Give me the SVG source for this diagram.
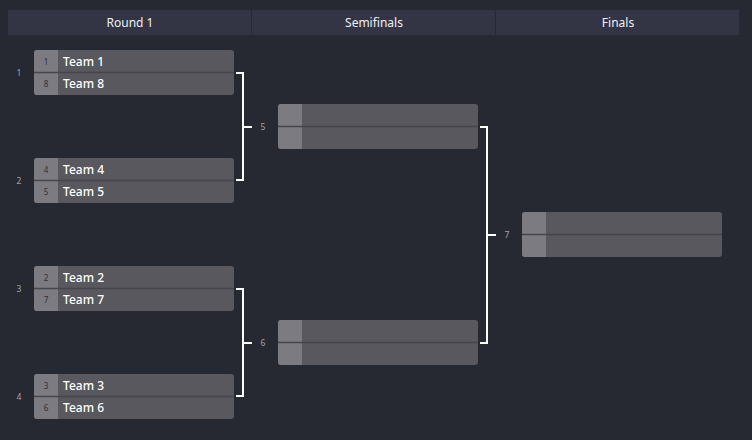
<svg xmlns="http://www.w3.org/2000/svg" width="752" height="440" viewBox="0 0 752 440">
<defs>
<style>
.hdr{fill:#333545}
.hdrt{font-family:"Noto Sans","Liberation Sans",sans-serif;font-size:12px;fill:#eef0f6;text-anchor:middle}
.box{fill:#58585e}
.seedbg{fill:#7b7b81}
.div{stroke:#45464d;stroke-width:1.5}
.seed{font-family:"Noto Sans","Liberation Sans",sans-serif;font-size:8px;fill:#2e303a;text-anchor:middle}
.team{font-family:"Noto Sans","Liberation Sans",sans-serif;font-size:12px;fill:#ffffff;font-weight:500}
.lbl{font-family:"Noto Sans","Liberation Sans",sans-serif;font-size:8.5px;fill:#a2a4ae;text-anchor:middle}
.con{fill:none;stroke:#ffffff;stroke-width:2}
</style>
<clipPath id="r"><rect x="0" y="0" width="200" height="45" rx="3"/></clipPath>
<g id="emptyBox">
<g clip-path="url(#r)">
<rect class="box" x="0" y="0" width="200" height="45"/>
<rect class="seedbg" x="0" y="0" width="24" height="45"/>
</g>
<line class="div" x1="0" y1="22.5" x2="200" y2="22.5"/>
</g>
</defs>
<rect width="752" height="440" fill="#262832"/>
<g id="header">
<rect class="hdr" x="8" y="10" width="731" height="25"/>
<line x1="251.5" y1="10" x2="251.5" y2="35" stroke="#262832" stroke-width="1"/>
<line x1="495.5" y1="10" x2="495.5" y2="35" stroke="#262832" stroke-width="1"/>
<text class="hdrt" x="130" y="27">Round 1</text>
<text class="hdrt" x="374" y="27">Semifinals</text>
<text class="hdrt" x="618" y="27">Finals</text>
</g>
<g id="connectors">
<path class="con" d="M236 73H243V180H236M243 127H252"/>
<path class="con" d="M236 289H243V396H236M243 343H252"/>
<path class="con" d="M480 127H487V343H480M487 235H496"/>
</g>
<g id="m1" transform="translate(34,50)">
<use href="#emptyBox"/>
<text class="seed" x="12" y="14.5">1</text><text class="team" x="29" y="15.5">Team 1</text>
<text class="seed" x="12" y="37">8</text><text class="team" x="29" y="38">Team 8</text>
</g>
<g id="m2" transform="translate(34,158)">
<use href="#emptyBox"/>
<text class="seed" x="12" y="14.5">4</text><text class="team" x="29" y="15.5">Team 4</text>
<text class="seed" x="12" y="37">5</text><text class="team" x="29" y="38">Team 5</text>
</g>
<g id="m3" transform="translate(34,266)">
<use href="#emptyBox"/>
<text class="seed" x="12" y="14.5">2</text><text class="team" x="29" y="15.5">Team 2</text>
<text class="seed" x="12" y="37">7</text><text class="team" x="29" y="38">Team 7</text>
</g>
<g id="m4" transform="translate(34,374)">
<use href="#emptyBox"/>
<text class="seed" x="12" y="14.5">3</text><text class="team" x="29" y="15.5">Team 3</text>
<text class="seed" x="12" y="37">6</text><text class="team" x="29" y="38">Team 6</text>
</g>
<g id="m5" transform="translate(278,104)"><use href="#emptyBox"/></g>
<g id="m6" transform="translate(278,320)"><use href="#emptyBox"/></g>
<g id="m7" transform="translate(522,212)"><use href="#emptyBox"/></g>
<g id="labels">
<text class="lbl" x="19" y="76">1</text>
<text class="lbl" x="19" y="184">2</text>
<text class="lbl" x="19" y="292">3</text>
<text class="lbl" x="19" y="400">4</text>
<text class="lbl" x="263" y="130">5</text>
<text class="lbl" x="263" y="346">6</text>
<text class="lbl" x="507" y="238">7</text>
</g>
</svg>
